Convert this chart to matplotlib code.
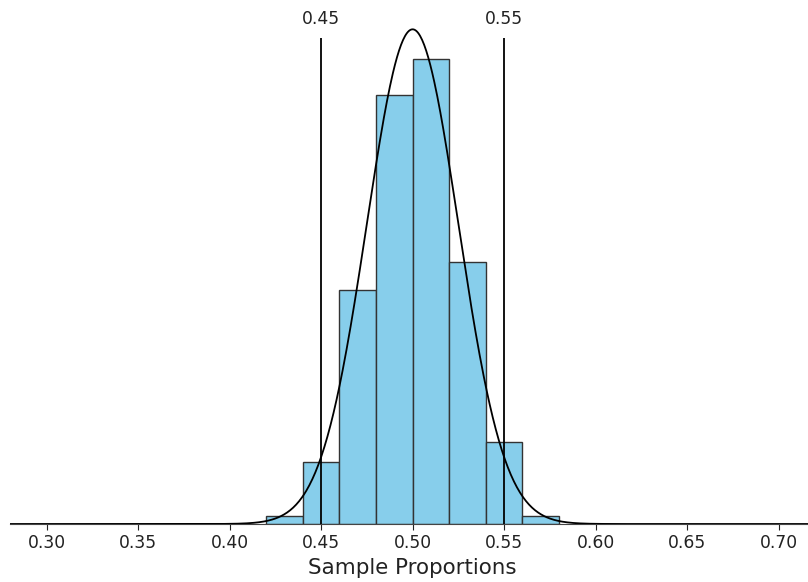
import numpy as np
import matplotlib
matplotlib.use("Agg")
import matplotlib.pyplot as plt

# Data
bin_edges = [0.42, 0.44, 0.46, 0.48, 0.50, 0.52, 0.54, 0.56, 0.58]
bin_counts = [5, 40, 151, 277, 300, 169, 53, 5]
mean_p = 0.50
sd_p = 0.025
cutoffs = [0.45, 0.55]
cutoff_labels = ["0.45", "0.55"]
xticks = [0.30, 0.35, 0.40, 0.45, 0.50, 0.55, 0.60, 0.65, 0.70]
xtick_labels = ["0.30", "0.35", "0.40", "0.45", "0.50", "0.55", "0.60", "0.65", "0.70"]

W, H = 808, 582
fig = plt.figure(figsize=(W / 100, H / 100), dpi=100)
ax_left, ax_bottom, ax_top = 10, 58, 5
xmin, xmax = 0.28, 0.72
px_per_unit = 1830.0
ax_w = (xmax - xmin) * px_per_unit
ax = fig.add_axes([ax_left / W, ax_bottom / H, ax_w / W, (H - ax_bottom - ax_top) / H])

centers = [(a + b) / 2 for a, b in zip(bin_edges[:-1], bin_edges[1:])]
ax.hist(centers, bins=bin_edges, weights=bin_counts, density=True,
        color="#87CEEB", edgecolor="#333333", linewidth=1.0, zorder=2)

xs = np.linspace(xmin, xmax, 800)
ys = np.exp(-0.5 * ((xs - mean_p) / sd_p) ** 2) / (sd_p * np.sqrt(2 * np.pi))
ax.plot(xs, ys, color="black", linewidth=1.3, zorder=4)

py_per_unit = 31.0
ymax = (H - ax_bottom - ax_top) / py_per_unit
line_top = (524 - 38) / py_per_unit
label_y = (524 - 19) / py_per_unit
ax.vlines(cutoffs, 0, line_top, color="black", linewidth=1.3, zorder=3)
for xc, lab in zip(cutoffs, cutoff_labels):
    ax.text(xc, label_y, lab, ha="center", va="center", fontsize=12.3, color="#222222")

ax.set_xlim(xmin, xmax)
ax.set_ylim(0, ymax)
ax.set_xticks(xticks)
ax.set_xticklabels(xtick_labels)
ax.tick_params(axis="x", labelsize=12.3, length=4, colors="#222222")
ax.set_yticks([])
for s in ["top", "right", "left"]:
    ax.spines[s].set_visible(False)
ax.spines["bottom"].set_color("#444444")
ax.set_xlabel("Sample Proportions", fontsize=15.4, color="#222222", labelpad=4)

fig.savefig("out.png", dpi=100)
